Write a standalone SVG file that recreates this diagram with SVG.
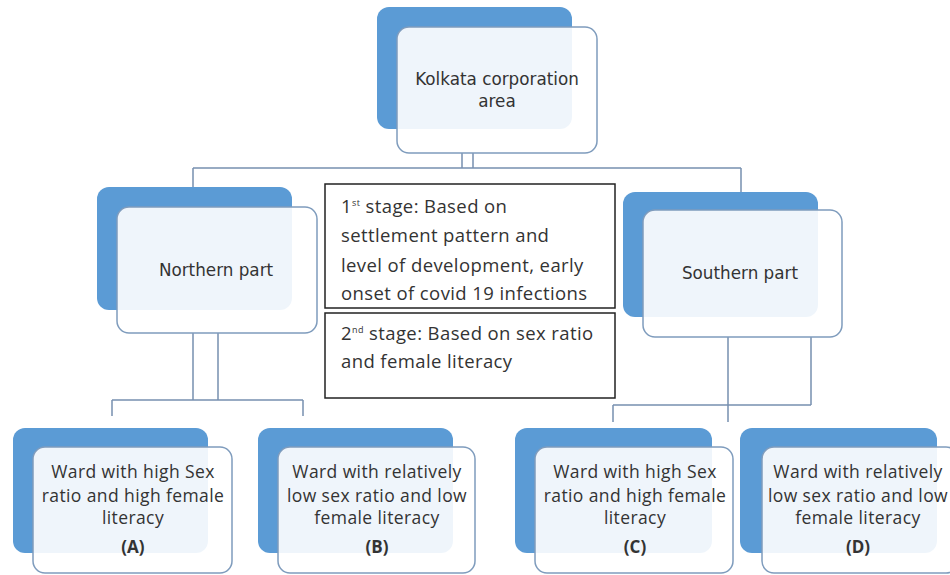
<svg xmlns="http://www.w3.org/2000/svg" width="950" height="575" viewBox="0 0 950 575">
<style>
.back{fill:#5b9bd5;}
.front{fill:#ffffff;fill-opacity:0.9;stroke:#7f9cbd;stroke-width:1.5;}
.conn{fill:none;stroke:#7790b0;stroke-width:1.5;}
.title{font-family:"DejaVu Sans",sans-serif;font-size:16.8px;fill:#333;text-anchor:middle;}
.ward{font-family:"Open Sans",sans-serif;font-size:17.5px;letter-spacing:0.4px;fill:#333;text-anchor:middle;}
.lbl{font-family:"Open Sans",sans-serif;font-size:17px;font-weight:bold;fill:#333;text-anchor:middle;}
.box{fill:#fff;stroke:#222;stroke-width:1.5;}
.note{font-family:"Open Sans",sans-serif;font-size:18.5px;letter-spacing:0.4px;fill:#333;}
</style>
<rect width="950" height="575" fill="#fff"/>
<g id="connectors">
<path class="conn" d="M462,153V168M473,153V168M193,168H741M193,168V187M741,168V192"/>
<path class="conn" d="M193,333V400M218,333V400M112,400H303M112,400V416M303,400V416"/>
<path class="conn" d="M728,337V422M811,337V405M613,405H811M613,405V422"/>
</g>
<g id="kolkata">
<rect class="back" x="377" y="7" width="195" height="122" rx="12"/>
<rect class="front" x="397" y="27" width="200" height="126" rx="12"/>
<text class="title" x="497" y="85">Kolkata corporation</text>
<text class="title" x="497" y="107">area</text>
</g>
<g id="northern">
<rect class="back" x="97" y="187" width="195" height="123" rx="12"/>
<rect class="front" x="117" y="207" width="200" height="126" rx="12"/>
<text class="title" x="216" y="276">Northern part</text>
</g>
<g id="southern">
<rect class="back" x="623" y="192" width="195" height="125" rx="12"/>
<rect class="front" x="643" y="210" width="199" height="127" rx="12"/>
<text class="title" x="740" y="279">Southern part</text>
</g>
<g id="stage1">
<rect class="box" x="325" y="184" width="290" height="124"/>
<text class="note" x="341" y="213">1<tspan font-size="9" dy="-7">st</tspan><tspan dy="7"> stage: Based on</tspan></text>
<text class="note" x="341" y="242">settlement pattern and</text>
<text class="note" x="341" y="272">level of development, early</text>
<text class="note" x="341" y="300">onset of covid 19 infections</text>
</g>
<g id="stage2">
<rect class="box" x="325" y="313" width="290" height="85"/>
<text class="note" x="341" y="340">2<tspan font-size="9" dy="-7">nd</tspan><tspan dy="7"> stage: Based on sex ratio</tspan></text>
<text class="note" x="341" y="368">and female literacy</text>
</g>
<g id="wardA">
<rect class="back" x="13" y="428" width="195" height="125" rx="12"/>
<rect class="front" x="33" y="447" width="199" height="126" rx="12"/>
<text class="ward" x="133" y="478">Ward with high Sex</text>
<text class="ward" x="133" y="502">ratio and high female</text>
<text class="ward" x="133" y="524">literacy</text>
<text class="lbl" x="133" y="553">(A)</text>
</g>
<g id="wardB">
<rect class="back" x="258" y="428" width="195" height="125" rx="12"/>
<rect class="front" x="278" y="447" width="197" height="126" rx="12"/>
<text class="ward" x="377" y="478">Ward with relatively</text>
<text class="ward" x="377" y="502">low sex ratio and low</text>
<text class="ward" x="377" y="524">female literacy</text>
<text class="lbl" x="377" y="553">(B)</text>
</g>
<g id="wardC">
<rect class="back" x="515" y="428" width="197" height="125" rx="12"/>
<rect class="front" x="535" y="447" width="198" height="126" rx="12"/>
<text class="ward" x="635" y="478">Ward with high Sex</text>
<text class="ward" x="635" y="502">ratio and high female</text>
<text class="ward" x="635" y="524">literacy</text>
<text class="lbl" x="635" y="553">(C)</text>
</g>
<g id="wardD">
<rect class="back" x="740" y="428" width="197" height="125" rx="12"/>
<rect class="front" x="762" y="447" width="196" height="126" rx="12"/>
<text class="ward" x="858" y="478">Ward with relatively</text>
<text class="ward" x="858" y="502">low sex ratio and low</text>
<text class="ward" x="858" y="524">female literacy</text>
<text class="lbl" x="858" y="553">(D)</text>
</g>
</svg>
